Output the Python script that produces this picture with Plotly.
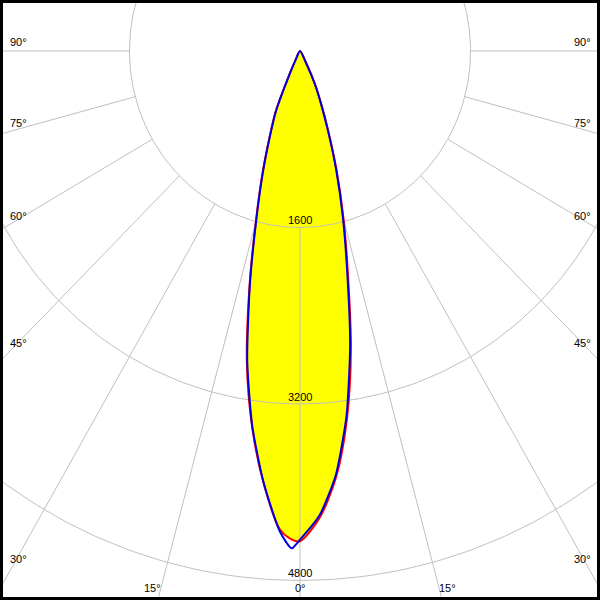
import numpy as np
import plotly.graph_objects as go

# ---------------- data ----------------
# C0-C180 plane (red), gamma angles in degrees (negative = left half), intensity in cd
RED_ANGLES = [-30, -27.5, -25, -22.5, -20, -17.5, -15, -12.5, -10, -7.5, -5, -2.5, -1.25, 0,
              2.5, 5, 7.5, 10, 12.5, 15, 17.5, 20, 22.5, 25, 27.5, 30]
RED_CD = [0, 90, 225, 600, 840, 1180, 1600, 2190, 2870, 3440, 3930, 4340, 4420, 4445,
          4235, 3880, 3370, 2750, 2080, 1580, 1150, 780, 520, 335, 140, 0]

# C90-C270 plane (blue)
BLUE_ANGLES = [-30, -27.5, -25, -22.5, -20, -17.5, -15, -12.5, -10, -7.5, -5, -2.5, -1, 0,
               2.5, 5, 7.5, 10, 12.5, 15, 17.5, 20, 22.5, 25, 27.5, 30]
BLUE_CD = [0, 80, 215, 587, 828, 1163, 1585, 2174, 2851, 3431, 3925, 4358, 4509, 4430,
           4213, 3858, 3339, 2708, 2044, 1550, 1129, 766, 509, 330, 135, 0]

RING_VALUES = [1600, 3200, 4800]
RING_LABELS = ["1600", "3200", "4800"]
SPOKE_ANGLES = [-90, -75, -60, -45, -30, -15, 0, 15, 30, 45, 60, 75, 90]
SIDE_LABEL_ANGLES = [90, 75, 60, 45, 30]
BOTTOM_LABEL_ANGLES = [-15, 0, 15]

# ---------------- geometry of the drawing ----------------
W = H = 600
CX_PX, CY_PX = 300.0, 51.0     # pixel position of the polar origin
SX, SY = 0.1066, 0.1103        # pixels per cd horizontally / vertically

X_RANGE = [-CX_PX / SX, (W - CX_PX) / SX]
Y_RANGE = [-(H - CY_PX) / SY, CY_PX / SY]


def to_xy(angles_deg, r):
    th = np.radians(np.asarray(angles_deg, dtype=float))
    r = np.asarray(r, dtype=float)
    return r * np.sin(th), -r * np.cos(th)


def px_to_data(px, py):
    return (px - CX_PX) / SX, -(py - CY_PX) / SY


GRID = "#c0c0c0"
FONT = dict(family="Liberation Sans, Arial, sans-serif", size=11, color="black")

fig = go.Figure()

# yellow fill of the C0-C180 curve
rx, ry = to_xy(RED_ANGLES, RED_CD)
fig.add_trace(go.Scatter(x=rx, y=ry, mode="lines", fill="toself",
                         fillcolor="#ffff00",
                         line=dict(width=0, color="#ffff00", shape="spline", smoothing=0.8),
                         hoverinfo="skip"))

# grid rings
t = np.arange(0, 361, 1.0)
gx, gy = [], []
for rv in RING_VALUES:
    cx, cy = to_xy(t, np.full_like(t, rv))
    gx += list(cx) + [None]
    gy += list(cy) + [None]
fig.add_trace(go.Scatter(x=gx, y=gy, mode="lines", line=dict(color=GRID, width=1),
                         hoverinfo="skip"))

# spokes (from the first ring outward)
sx_, sy_ = [], []
for a in SPOKE_ANGLES:
    px_, py_ = to_xy([a, a], [RING_VALUES[0], 20000])
    sx_ += list(px_) + [None]
    sy_ += list(py_) + [None]
fig.add_trace(go.Scatter(x=sx_, y=sy_, mode="lines", line=dict(color=GRID, width=1),
                         hoverinfo="skip"))

# curves
fig.add_trace(go.Scatter(x=rx, y=ry, mode="lines",
                         line=dict(color="#ff0000", width=2, shape="spline", smoothing=0.8),
                         hoverinfo="skip"))
bx, by = to_xy(BLUE_ANGLES, BLUE_CD)
fig.add_trace(go.Scatter(x=bx, y=by, mode="lines",
                         line=dict(color="#0000dd", width=2, shape="spline", smoothing=0.6),
                         hoverinfo="skip"))

annotations = []
# ring value labels, just above the ring on the 0-degree spoke
for rv, lab in zip(RING_VALUES, RING_LABELS):
    x0, y0 = to_xy([0], [rv])
    annotations.append(dict(x=float(x0[0]), y=float(y0[0]), text=lab, showarrow=False,
                            xanchor="center", yanchor="bottom", yshift=-1, font=FONT))

# side angle labels
for a in SIDE_LABEL_ANGLES:
    dy = 282 * (SY / SX) / np.tan(np.radians(a)) if a != 90 else 0.0
    py = CY_PX + dy - 9 + 0.2 * (90 - a)
    for side in (-1, 1):
        px = CX_PX + side * 282
        x, y = px_to_data(px, py)
        annotations.append(dict(x=x, y=y, text=f"{a}°", showarrow=False,
                                xanchor="center", yanchor="middle", font=FONT))

# bottom angle labels (placed a little outside of where the spoke meets the frame)
for a in BOTTOM_LABEL_ANGLES:
    py = 588
    dxp = (H - 2 - CY_PX) * (SX / SY) * np.tan(np.radians(abs(a)))
    px = CX_PX + np.sign(a) * (dxp + 6 if a != 0 else 0)
    x, y = px_to_data(px, py)
    annotations.append(dict(x=x, y=y, text=f"{abs(a)}°", showarrow=False,
                            xanchor="center", yanchor="middle", font=FONT))

fig.update_layout(
    width=W, height=H,
    margin=dict(l=0, r=0, t=0, b=0),
    paper_bgcolor="white", plot_bgcolor="white",
    showlegend=False, hovermode=False,
    xaxis=dict(range=X_RANGE, visible=False, fixedrange=True),
    yaxis=dict(range=Y_RANGE, visible=False, fixedrange=True),
    annotations=annotations,
    shapes=[dict(type="rect", xref="paper", yref="paper", x0=0, y0=0, x1=1, y1=1,
                 line=dict(color="black", width=6), layer="above")],
)

fig.write_html("out.html", config={"displayModeBar": False},
               post_script="document.body.style.margin='0';"
                           "document.body.style.overflow='hidden';")
